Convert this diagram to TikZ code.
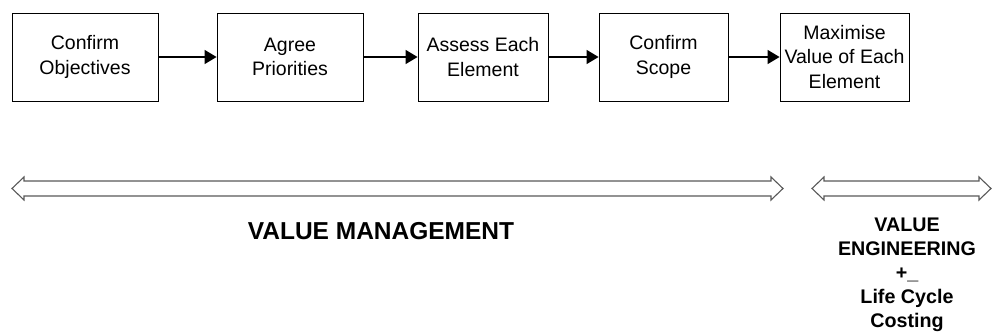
\documentclass[tikz,border=0pt]{standalone}
\usepackage{fontspec}
\setmainfont{Liberation Sans}
\usetikzlibrary{arrows.meta, positioning}

\begin{document}
\begin{tikzpicture}[x=1pt, y=-1pt,
  stepbox/.style = {draw, line width=0.9pt, minimum height=88pt, align=center,
    inner sep=0pt, font=\fontsize{19.5}{24.5}\selectfont},
  flow/.style = {line width=1.6pt, -{Triangle[length=12pt, width=14pt]}},
  bigarrow/.style = {draw=black!65, line width=1.1pt, fill=white},
  bigtext/.style = {font=\fontsize{19.7}{24}\selectfont\bfseries, align=center}
]
\useasboundingbox (0,0) rectangle (992,336);

\node[stepbox, minimum width=146pt] (obj) at (85,57) {Confirm\\Objectives};
\node[stepbox, minimum width=146pt] (pri) at (290,57) {Agree\\Priorities};
\node[stepbox, minimum width=130pt] (ass) at (483,57) {Assess Each\\Element};
\node[stepbox, minimum width=129pt] (sco) at (663.5,57) {Confirm\\Scope};
\node[stepbox, minimum width=129pt] (max) at (844.5,57) {Maximise\\Value of Each\\Element};

\draw[flow] (obj) -- (pri);
\draw[flow] (pri) -- (ass);
\draw[flow] (ass) -- (sco);
\draw[flow] (sco) -- (max);

% double arrows
\draw[bigarrow] (12,188.5) -- (24,177) -- (24,181) -- (771,181) -- (771,177)
  -- (783,188.5) -- (771,200) -- (771,196) -- (24,196) -- (24,200) -- cycle;
\draw[bigarrow] (812,188.5) -- (824,177) -- (824,181) -- (979,181) -- (979,177)
  -- (991,188.5) -- (979,200) -- (979,196) -- (824,196) -- (824,200) -- cycle;

\node[bigtext, font=\fontsize{24.5}{26}\selectfont\bfseries] (vm) at (381,231) {VALUE MANAGEMENT};
\node[bigtext] (ve) at (907,275) {VALUE\\ENGINEERING\\+\_\\Life Cycle\\Costing};
\end{tikzpicture}
\end{document}
